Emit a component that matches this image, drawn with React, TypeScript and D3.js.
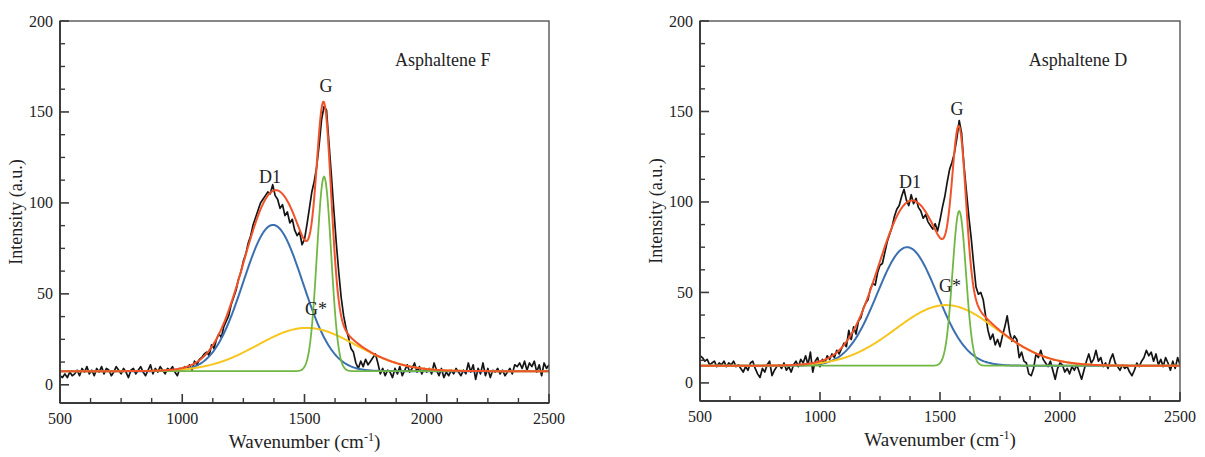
import React from "react";
import * as d3 from "d3";

// ---------- DATA ----------
const WN_START = 500;
const WN_STEP = 10;

// Asphaltene F, measured spectrum (a.u.), 500..2500 cm-1 every 10 cm-1
const spectrumF = [
  5, 4, 6, 4, 7, 5, 6, 8, 5, 9,
  7, 10, 6, 8, 5, 9, 7, 10, 6, 9,
  8, 5, 7, 10, 8, 6, 9, 7, 4, 8,
  9, 6, 8, 10, 7, 5, 8, 11, 6, 9,
  7, 10, 8, 6, 9, 8, 10, 7, 5, 9,
  8, 10, 9, 11, 8, 13, 11, 14, 15, 17,
  18, 16, 22, 20, 25, 28, 26, 32, 35, 38,
  44, 48, 52, 58, 62, 68, 72, 78, 82, 88,
  92, 96, 100, 102, 104, 106, 105, 110, 104, 102,
  97, 99, 93, 95, 89, 91, 85, 82, 84, 77,
  80, 88, 97, 106, 112, 120, 132, 146, 153, 151,
  133, 115, 96, 78, 62, 48, 38, 31, 26, 20,
  18, 12, 9, 13, 10, 14, 11, 13, 15, 17,
  12, 6, 9, 5, 8, 7, 4, 9, 6, 10,
  5, 8, 11, 7, 9, 12, 7, 10, 6, 9,
  7, 9, 6, 12, 8, 5, 9, 4, 7, 5,
  8, 6, 9, 7, 5, 8, 6, 12, 7, 11,
  3, 9, 6, 12, 5, 9, 4, 8, 7, 9,
  6, 8, 5, 7, 9, 6, 11, 10, 12, 9,
  13, 8, 12, 10, 13, 7, 11, 5, 12, 9,
  11,
];

// Asphaltene D, measured spectrum (a.u.), 500..2500 cm-1 every 10 cm-1
const spectrumD = [
  15, 14, 12, 13, 10, 11, 12, 9, 11, 10,
  12, 9, 11, 10, 12, 9, 10, 8, 6, 9,
  7, 11, 12, 8, 5, 3, 8, 6, 10, 12,
  4, 7, 9, 10, 8, 11, 7, 9, 6, 10,
  12, 9, 13, 11, 15, 10, 17, 6, 12, 14,
  9, 13, 11, 15, 13, 16, 14, 18, 16, 19,
  22, 20, 29, 24, 31, 27, 34, 36, 41, 44,
  46, 52, 55, 54, 61, 65, 66, 72, 78, 82,
  86, 92, 96, 98, 103, 107, 101, 98, 104, 99,
  102, 97, 95, 91, 93, 89, 87, 85, 88, 84,
  90, 97, 103, 111, 118, 122, 127, 135, 145, 138,
  120, 106, 92, 80, 66, 53, 49, 50, 46, 37,
  29, 24, 27, 21, 24, 20, 26, 31, 37, 28,
  23, 26, 24, 14, 17, 12, 11, 5, 4, 8,
  16, 14, 18, 13, 11, 9, 12, 7, 2, 8,
  11, 10, 6, 8, 5, 9, 7, 10, 6, 2,
  7, 12, 16, 11, 13, 18, 12, 14, 9, 11,
  8, 13, 16, 11, 9, 7, 10, 8, 9, 6,
  4, 7, 11, 9, 12, 14, 18, 15, 17, 12,
  16, 10, 13, 9, 14, 11, 7, 12, 8, 14,
  10,
];

// Fitted Gaussian bands: D1, G, G*
const peakNames = ["D1", "G", "G*"];
const peakCentersF = [1371, 1580, 1509];
const peakHeightsF = [80.4, 107, 23.8];
const peakSigmasF = [122, 29, 200];
const baselineF = 7.5;

const peakCentersD = [1363, 1580, 1525];
const peakHeightsD = [65.5, 85.5, 33.5];
const peakSigmasD = [125, 28, 210];
const baselineD = 9.5;

// label anchors (wavenumber, intensity) for D1, G, G*
const labelWnF = [1359, 1588, 1502];
const labelIntF = [111, 161, 38.5];
const labelWnD = [1375, 1571, 1496];
const labelIntD = [107.7, 148, 50];

const xTicks = [500, 1000, 1500, 2000, 2500];
const yTicks = [0, 50, 100, 150, 200];
const xDomain = [500, 2500];
const yDomain = [-10, 200];

// ---------- STYLE ----------
const FONT = "'Liberation Serif', 'Times New Roman', serif";
const COL_DATA = "#151515";
const COL_SUM = "#f0532a";
const COL_D1 = "#3b6fb0";
const COL_G = "#72b744";
const COL_GS = "#f7c51e";
const AXIS = "#3a3a3a";

type PanelProps = {
  left: number;
  top: number;
  width: number;
  height: number;
  data: number[];
  centers: number[];
  heights: number[];
  sigmas: number[];
  baseline: number;
  title: string;
  labelWn: number[];
  labelInt: number[];
};

function Panel(p: PanelProps) {
  const x = d3.scaleLinear().domain(xDomain).range([p.left, p.left + p.width]);
  const y = d3.scaleLinear().domain(yDomain).range([p.top + p.height, p.top]);

  const pts: [number, number][] = p.data.map((v, i) => [WN_START + i * WN_STEP, v]);
  const grid = d3.range(xDomain[0], xDomain[1] + 0.1, 4);
  const comp = (k: number) => (w: number) =>
    p.baseline + p.heights[k] * Math.exp(-((w - p.centers[k]) ** 2) / (2 * p.sigmas[k] ** 2));
  const sum = (w: number) =>
    p.baseline + [0, 1, 2].reduce((s, k) => s + comp(k)(w) - p.baseline, 0);

  const line = d3
    .line<[number, number]>()
    .x((d) => x(d[0]))
    .y((d) => y(d[1]));

  const curve = (f: (w: number) => number) => line(grid.map((w) => [w, f(w)] as [number, number]));

  const xMinor = d3.range(500, 2501, 125).filter((v) => v % 500 !== 0);
  const yMinor = d3.range(0, 200.1, 12.5).filter((v) => v % 50 !== 0);
  const bottom = p.top + p.height;
  const right = p.left + p.width;
  const fontStyle = { fontFamily: FONT, fill: "#222" };
  const clipId = "clip-" + p.title.replace(/\s/g, "");

  return (
    <g>
      <defs>
        <clipPath id={clipId}>
          <rect x={p.left} y={p.top} width={p.width} height={p.height} />
        </clipPath>
      </defs>
      <g clipPath={`url(#${clipId})`} fill="none" strokeLinejoin="round">
        <path d={line(pts) || ""} stroke={COL_DATA} strokeWidth={1.7} />
        <path d={curve(comp(0)) || ""} stroke={COL_D1} strokeWidth={2} />
        <path d={curve(comp(2)) || ""} stroke={COL_GS} strokeWidth={2} />
        <path d={curve(comp(1)) || ""} stroke={COL_G} strokeWidth={1.8} />
        <path d={curve(sum) || ""} stroke={COL_SUM} strokeWidth={2} />
      </g>
      {/* frame */}
      <rect x={p.left} y={p.top} width={p.width} height={p.height} fill="none" stroke="#555" strokeWidth={1.4} />
      <line x1={p.left} x2={p.left} y1={p.top} y2={bottom} stroke={AXIS} strokeWidth={1.9} />
      <line x1={p.left} x2={right} y1={bottom} y2={bottom} stroke={AXIS} strokeWidth={1.9} />
      {/* x ticks */}
      {xTicks.map((t) => (
        <g key={"xt" + t}>
          <line x1={x(t)} x2={x(t)} y1={bottom} y2={bottom - 9} stroke={AXIS} strokeWidth={1.6} />
          <text x={x(t)} y={bottom + 21} textAnchor="middle" fontSize={16} style={fontStyle}>
            {t}
          </text>
        </g>
      ))}
      {xMinor.map((t) => (
        <line key={"xm" + t} x1={x(t)} x2={x(t)} y1={bottom} y2={bottom - 5} stroke={AXIS} strokeWidth={1.4} />
      ))}
      {/* y ticks */}
      {yTicks.map((t) => (
        <g key={"yt" + t}>
          <line x1={p.left} x2={p.left + 9} y1={y(t)} y2={y(t)} stroke={AXIS} strokeWidth={1.6} />
          <text x={p.left - 7} y={y(t) + 5.5} textAnchor="end" fontSize={16} style={fontStyle}>
            {t}
          </text>
        </g>
      ))}
      {yMinor.map((t) => (
        <line key={"ym" + t} x1={p.left} x2={p.left + 5} y1={y(t)} y2={y(t)} stroke={AXIS} strokeWidth={1.4} />
      ))}
      {/* axis titles */}
      <text
        transform={`translate(${p.left - 38},${p.top + p.height / 2}) rotate(-90)`}
        textAnchor="middle"
        fontSize={18}
        style={fontStyle}
      >
        Intensity (a.u.)
      </text>
      <text x={(p.left + right) / 2} y={bottom + 45} textAnchor="middle" fontSize={19} style={fontStyle}>
        Wavenumber (cm
        <tspan dy={-7} fontSize={12}>-1</tspan>
        <tspan dy={7}>)</tspan>
      </text>
      {/* sample title */}
      <text x={x(1870)} y={y(175)} fontSize={18} style={fontStyle}>
        {p.title}
      </text>
      {/* band labels */}
      {peakNames.map((n, k) => (
        <text
          key={n}
          x={x(p.labelWn[k])}
          y={y(p.labelInt[k])}
          textAnchor={n === "G*" ? "start" : "middle"}
          fontSize={18}
          style={fontStyle}
        >
          {n}
        </text>
      ))}
    </g>
  );
}

export default function App() {
  return (
    <svg
      width={1205}
      height={457}
      style={{ position: "absolute", left: 0, top: 0, background: "#fff" }}
    >
      <rect width={1205} height={457} fill="#fff" />
      <Panel
        left={60}
        top={21}
        width={489}
        height={382}
        data={spectrumF}
        centers={peakCentersF}
        heights={peakHeightsF}
        sigmas={peakSigmasF}
        baseline={baselineF}
        title="Asphaltene F"
        labelWn={labelWnF}
        labelInt={labelIntF}
      />
      <Panel
        left={700}
        top={21}
        width={480}
        height={380}
        data={spectrumD}
        centers={peakCentersD}
        heights={peakHeightsD}
        sigmas={peakSigmasD}
        baseline={baselineD}
        title="Asphaltene D"
        labelWn={labelWnD}
        labelInt={labelIntD}
      />
    </svg>
  );
}
